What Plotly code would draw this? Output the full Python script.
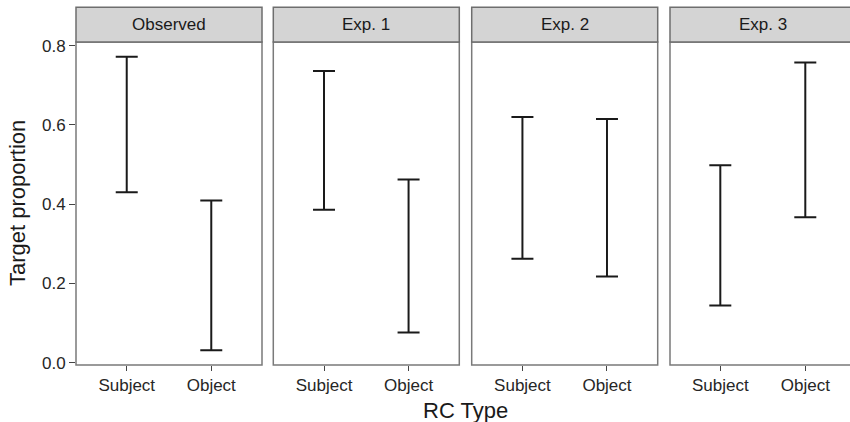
import plotly.graph_objects as go

panels = ["Observed", "Exp. 1", "Exp. 2", "Exp. 3"]
rc_types = ["Subject", "Object"]
lower = {
    "Observed": [0.430, 0.031],
    "Exp. 1": [0.386, 0.076],
    "Exp. 2": [0.262, 0.217],
    "Exp. 3": [0.144, 0.367],
}
upper = {
    "Observed": [0.772, 0.409],
    "Exp. 1": [0.736, 0.462],
    "Exp. 2": [0.620, 0.615],
    "Exp. 3": [0.498, 0.757],
}
y_ticks = [0.0, 0.2, 0.4, 0.6, 0.8]
y_ticklabels = ["0.0", "0.2", "0.4", "0.6", "0.8"]

W, H = 850, 422
ML, MR, MT, MB = 76, 0, 42, 57
PW = W - ML - MR
PH = H - MT - MB

def px(x):
    return (x - ML) / PW

domains = [(px(76), px(262)), (px(273.3), px(459.3)), (px(471.7), px(657.7)), (px(670), 1.0)]
border_right = [px(262), px(459.3), px(657.7), px(856)]
xranges = [[0.4, 2.6], [0.4, 2.6], [0.4, 2.6], [0.408, 2.526]]

FONT = "Liberation Sans, Arial, Helvetica, sans-serif"
fig = go.Figure()
shapes = []
annotations = []
strip_top = 1 + (MT - 7.3) / PH

for i, p in enumerate(panels):
    xa = "x" if i == 0 else f"x{i+1}"
    ya = "y" if i == 0 else f"y{i+1}"
    lo = lower[p]
    hi = upper[p]
    fig.add_trace(go.Scatter(
        x=[1, 2], y=hi, xaxis=xa, yaxis=ya, mode="markers",
        marker=dict(size=1, color="rgba(0,0,0,0)"),
        error_y=dict(type="data", symmetric=False,
                     array=[0, 0], arrayminus=[h - l for h, l in zip(hi, lo)],
                     color="#1a1a1a", thickness=2, width=11),
        showlegend=False, hoverinfo="skip"))
    key = "" if i == 0 else str(i + 1)
    fig.update_layout(**{
        f"xaxis{key}": dict(domain=list(domains[i]), range=xranges[i],
                            tickmode="array", tickvals=[1, 2], ticktext=rc_types,
                            ticks="outside", ticklen=5, tickwidth=1.3, tickcolor="#444",
                            showgrid=False, zeroline=False, showline=False,
                            tickfont=dict(size=17, color="#262626", family=FONT),
                            anchor=ya, fixedrange=True),
        f"yaxis{key}": dict(domain=[0, 1], range=[-0.006, 0.809],
                            tickmode="array", tickvals=y_ticks, ticktext=y_ticklabels,
                            ticks="outside" if i == 0 else "", ticklen=6, tickwidth=1.3,
                            tickcolor="#444", showticklabels=(i == 0),
                            showgrid=False, zeroline=False, showline=False,
                            tickfont=dict(size=17, color="#262626", family=FONT),
                            anchor=xa, fixedrange=True),
    })
    x0, x1 = domains[i][0], border_right[i]
    shapes.append(dict(type="rect", xref="paper", yref="paper", x0=x0, x1=x1, y0=0, y1=1,
                       line=dict(color="#7a7a7a", width=1.5), fillcolor="rgba(0,0,0,0)", layer="above"))
    shapes.append(dict(type="rect", xref="paper", yref="paper", x0=x0, x1=x1, y0=1, y1=strip_top,
                       line=dict(color="#6e6e6e", width=1.5), fillcolor="#d4d4d4", layer="above"))
    annotations.append(dict(text=p, xref="paper", yref="paper", x=(x0 + x1) / 2,
                            y=(1 + strip_top) / 2, showarrow=False, xanchor="center", yanchor="middle",
                            font=dict(size=17, color="#1a1a1a", family=FONT)))

annotations.append(dict(text="Target proportion", xref="paper", yref="paper",
                        x=(17.5 - ML) / PW, y=0.5, textangle=-90, showarrow=False,
                        xanchor="center", yanchor="middle",
                        font=dict(size=22, color="#1a1a1a", family=FONT)))
annotations.append(dict(text="RC Type", xref="paper", yref="paper",
                        x=px(465), y=-(410 - (H - MB)) / PH, showarrow=False,
                        xanchor="center", yanchor="middle",
                        font=dict(size=22, color="#1a1a1a", family=FONT)))

fig.update_layout(width=W, height=H, margin=dict(l=ML, r=MR, t=MT, b=MB),
                  paper_bgcolor="white", plot_bgcolor="white",
                  shapes=shapes, annotations=annotations, showlegend=False)

fig.write_html("out.html", config={"displayModeBar": False},
               post_script="document.body.style.margin='0';document.body.style.overflow='hidden';")
